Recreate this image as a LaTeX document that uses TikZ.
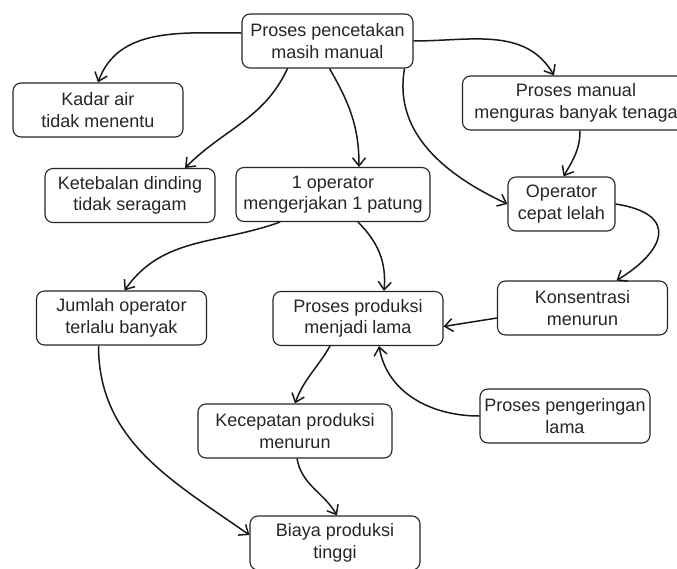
\documentclass[tikz,border=0pt]{standalone}
\usepackage{fontspec}
\setmainfont{Liberation Sans}
\usetikzlibrary{arrows.meta}

\begin{document}
\begin{tikzpicture}[x=1pt,y=1pt,
    box/.style={draw=black!85,line width=1.1pt,rounded corners=8pt,align=center,
      minimum width=170pt,minimum height=54pt,inner sep=2pt,text=black!85,
      font=\fontsize{18}{21.5}\selectfont},
    link/.style={line width=1.5pt,black!90,-{Straight Barb[length=8pt,width=13pt,line width=1.5pt]}}]
  \useasboundingbox (0,0) rectangle (677,-568);
  \fill[white] (0,0) rectangle (677,-568);

  \node[box,minimum width=171pt] (cetak)  at (327.5,-41)  {Proses pencetakan\\masih manual};
  \node[box]                     (kadar)  at (98,-110)    {Kadar air\\tidak menentu};
  \node[box,minimum width=227pt] (tenaga) at (576,-103)   {Proses manual\\menguras banyak tenaga};
  \node[box]                     (tebal)  at (130,-195.5) {Ketebalan dinding\\tidak seragam};
  \node[box,minimum width=194pt] (satu)   at (333,-194.5) {1 operator\\mengerjakan 1 patung};
  \node[box,minimum width=107pt] (lelah)  at (561.5,-204) {Operator\\cepat lelah};
  \node[box]                     (jumlah) at (121.5,-318) {Jumlah operator\\terlalu banyak};
  \node[box]                     (lama)   at (358,-318.5) {Proses produksi\\menjadi lama};
  \node[box]                     (konsen) at (582.5,-308) {Konsentrasi\\menurun};
  \node[box,minimum width=194pt] (cepat)  at (295,-431)   {Kecepatan produksi\\menurun};
  \node[box]                     (kering) at (565,-416)   {Proses pengeringan\\lama};
  \node[box]                     (biaya)  at (335,-543)   {Biaya produksi\\tinggi};

  \draw[link] ([yshift=8pt]cetak.west) to[out=180,in=70] (kadar.north);
  \draw[link] ([xshift=-40pt]cetak.south) to[out=-115,in=45] ([xshift=55pt]tebal.north);
  \draw[link] ([xshift=2pt]cetak.south) to[out=-60,in=90] ([xshift=26pt]satu.north);
  \draw[link] ([xshift=77pt]cetak.south) to[out=-100,in=155] (lelah.west);
  \draw[link] (cetak.east) to[out=0,in=120] ([xshift=-22pt]tenaga.north);
  \draw[link] ([xshift=4pt]tenaga.south) to[out=-90,in=60] ([xshift=2pt]lelah.north);
  \draw[link] (lelah.east) .. controls +(65,-10) and +(48,29) .. ([xshift=34pt]konsen.north);
  \draw[link] ([xshift=-53pt]satu.south) to[out=-160,in=55] ([xshift=3pt]jumlah.north);
  \draw[link] ([xshift=25pt]satu.south) to[out=-45,in=85] ([xshift=26pt]lama.north);
  \draw[link] ([yshift=-10pt]konsen.west) -- ([yshift=-8pt]lama.east);
  \draw[link] ([xshift=-23pt]jumlah.south) to[out=-90,in=145] ([yshift=8pt]biaya.west);
  \draw[link] ([xshift=-28pt]lama.south) to[out=-120,in=70] (cepat.north);
  \draw[link] (kering.west) to[out=180,in=-80] ([xshift=21pt]lama.south);
  \draw[link] ([xshift=2pt]cepat.south) to[out=-80,in=120] ([xshift=2pt]biaya.north);
\end{tikzpicture}
\end{document}
